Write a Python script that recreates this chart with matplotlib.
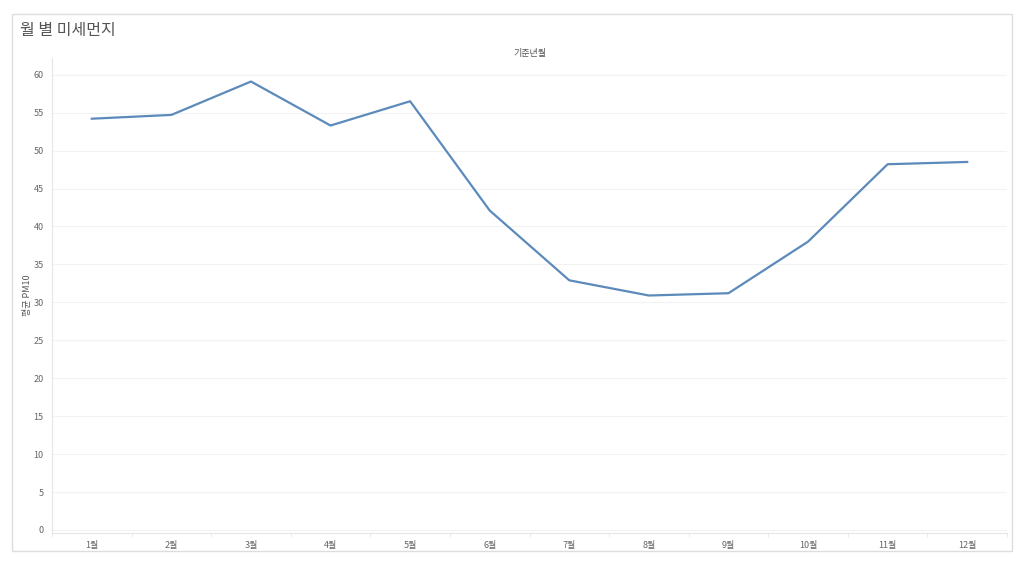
import matplotlib.pyplot as plt
from matplotlib.patches import Rectangle

plt.rcParams['font.family'] = ['Noto Sans CJK KR', 'DejaVu Sans']

# 데이터
months = ['1월', '2월', '3월', '4월', '5월', '6월', '7월', '8월', '9월', '10월', '11월', '12월']
pm10 = [54.2, 54.7, 59.1, 53.3, 56.5, 42.1, 32.9, 30.9, 31.2, 38.0, 48.2, 48.5]
yticks = list(range(0, 65, 5))

fig = plt.figure(figsize=(10.24, 5.68), dpi=100)
fig.patches.append(Rectangle((12 / 1024, 1 - 551 / 568), 1000 / 1024, 537 / 568,
                             transform=fig.transFigure, fill=False,
                             edgecolor='#dddddd', linewidth=1.0))

ax = fig.add_axes([52 / 1024, 1 - 533 / 568, 955 / 1024, 475 / 568])
x = list(range(len(months)))
ax.plot(x, pm10, color='#5b8abb', linewidth=1.6)

ax.set_xlim(-0.5, len(months) - 0.5)
ax.set_ylim(-0.4, 62.2)
ax.set_yticks(yticks)
ax.set_xticks(x)
ax.set_xticklabels(months)
ax.set_xticks([i - 0.5 for i in range(len(months) + 1)], minor=True)
ax.tick_params(axis='x', which='major', length=0, pad=6, labelsize=6.5, labelcolor='#666666')
ax.tick_params(axis='x', which='minor', length=3, color='#e6e6e6')
ax.tick_params(axis='y', length=0, pad=6, labelsize=6.5, labelcolor='#666666')
ax.grid(axis='y', color='#f2f2f2', linewidth=0.8)
ax.set_axisbelow(True)
for side in ['top', 'right']:
    ax.spines[side].set_visible(False)
ax.spines['left'].set_color('#e6e6e6')
ax.spines['bottom'].set_color('#e6e6e6')

ax.set_ylabel('평균 PM10', fontsize=6.5, color='#555555')
ax.yaxis.set_label_coords(-0.021, 0.5)
ax.set_title('기준년월', fontsize=6.5, color='#555555', pad=1)
fig.text(20 / 1024, 1 - 30 / 568, '월 별 미세먼지', fontsize=11.5, color='#555555',
         va='center', ha='left')

fig.savefig('out.png', dpi=100)
